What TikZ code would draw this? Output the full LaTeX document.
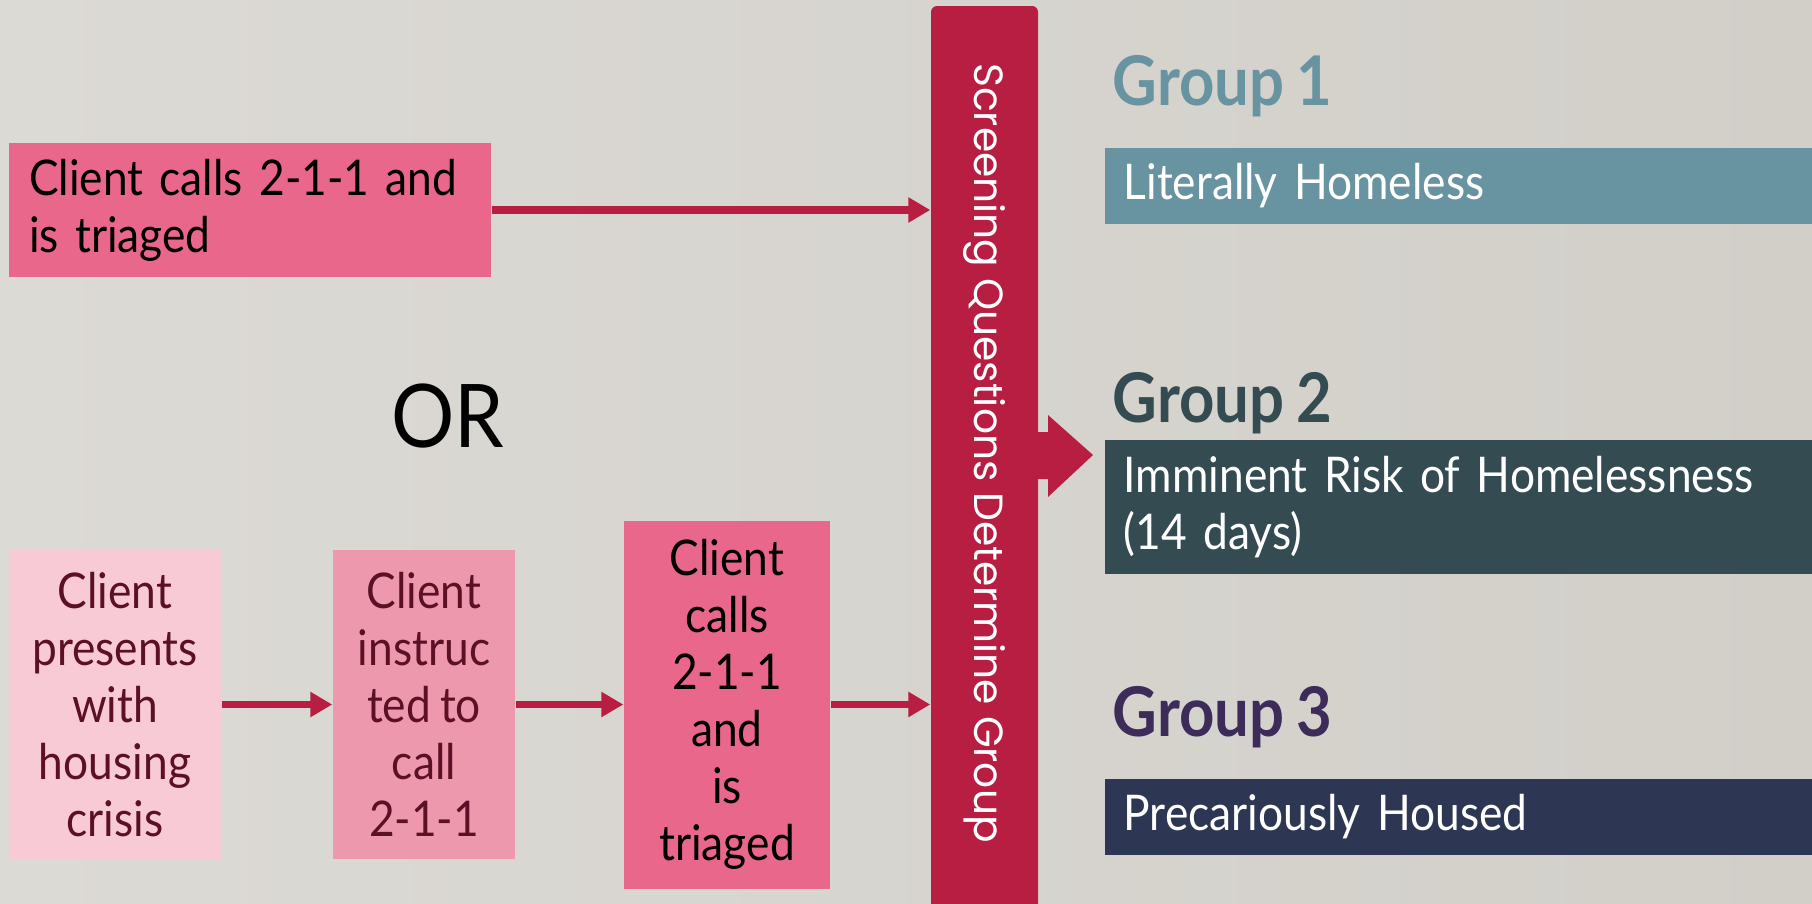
\documentclass[tikz,border=0pt]{standalone}
\usepackage{fontspec}
\setmainfont{Lato}[FakeStretch=0.9, WordSpace=0.8]
\newfontfamily\barfont{Poppins}
\usetikzlibrary{arrows.meta}
\definecolor{bgleft}{HTML}{DCDAD5}
\definecolor{bgmid}{HTML}{E9E7E3}
\definecolor{bgright}{HTML}{D2CFC9}
\definecolor{barred}{HTML}{B81D42}
\definecolor{pinkdark}{HTML}{E8678A}
\definecolor{pinkmid}{HTML}{EE98AE}
\definecolor{pinklight}{HTML}{F7CAD5}
\definecolor{maroon}{HTML}{5C1025}
\definecolor{groupone}{HTML}{6893A0}
\definecolor{grouptwo}{HTML}{344B52}
\definecolor{groupthreetitle}{HTML}{3D2C5A}
\definecolor{groupthree}{HTML}{2D3653}
\tikzset{
    flow/.style = {draw = barred, line width = 0.75mm, -{Triangle[length = 2.2mm, width = 2.4mm]}},
    stepbox/.style = {inner sep = 0pt, align = center, font = \fontsize{14pt}{16.2pt}\selectfont},
    groupbox/.style = {anchor = west, inner xsep = 1.9mm, inner ysep = 0pt, text width = 67mm,
        align = left, text = white, font = \fontsize{14pt}{16.2pt}\selectfont},
    grouptitle/.style = {anchor = base west, inner sep = 0pt, font = \fontsize{19.5pt}{21pt}\selectfont\bfseries}
}
\begin{document}
\begin{tikzpicture}[x = 0.1mm, y = -0.1mm]
        \useasboundingbox (0,0) rectangle (1812,903);
        \clip (0,0) rectangle (1812,903);
        \shade[left color = bgleft, middle color = bgmid, right color = bgright] (0,0) rectangle (1812,903);
        \node[stepbox, fill = pinkdark, minimum width = 48.2mm, minimum height = 13.4mm,
            text width = 44.2mm, inner xsep = 2mm, align = left] (call1) at (250,210)
            {Client calls 2-1-1 and\\is triaged};
        \node[font = \fontsize{25pt}{25pt}\selectfont] (or) at (448,416) {OR};
        \node[stepbox, fill = pinklight, text = maroon, minimum width = 21.2mm, minimum height = 30.9mm] (crisis)
            at (115,704.5) {Client\\presents\\with\\housing\\crisis};
        \node[stepbox, fill = pinkmid, text = maroon, minimum width = 18.2mm, minimum height = 30.9mm] (instructed)
            at (424,704.5) {Client\\instruc\\ted to\\call\\2-1-1};
        \node[stepbox, fill = pinkdark, minimum width = 20.6mm, minimum height = 36.8mm] (call2)
            at (727,704.5) {Client\\calls\\2-1-1\\and\\is\\triaged};
        \node[fill = barred, rounded corners = 0.6mm, minimum width = 10.7mm, minimum height = 91mm,
            inner sep = 0pt] (screen) at (984.5,461) {};
        \node[rotate = -90, text = white, font = \barfont\fontsize{11.6pt}{12pt}\selectfont] (screenlabel)
            at (984.5,453) {Screening Questions Determine Group};
        \fill[barred] (1036,432) -- (1048,432) -- (1048,415) -- (1093,455) -- (1048,497) -- (1048,479)
            -- (1036,479) -- cycle;
        \draw[flow] (call1) -- (call1 -| screen.west);
        \draw[flow] (crisis) -- (instructed);
        \draw[flow] (instructed) -- (call2);
        \draw[flow] (call2) -- (call2 -| screen.west);
        \node[grouptitle, text = groupone] (title1) at (1112,106) {Group 1};
        \node[grouptitle, text = grouptwo] (title2) at (1112,422) {Group 2};
        \node[grouptitle, text = groupthreetitle] (title3) at (1112,736) {Group 3};
        \node[groupbox, fill = groupone, minimum height = 7.6mm] (group1) at (1104,186) {Literally Homeless};
        \node[groupbox, fill = grouptwo, minimum height = 13.4mm] (group2) at (1104,507)
            {Imminent Risk of Homelessness\\(14 days)};
        \node[groupbox, fill = groupthree, minimum height = 7.6mm] (group3) at (1104,817) {Precariously Housed};
    \end{tikzpicture}
\end{document}
